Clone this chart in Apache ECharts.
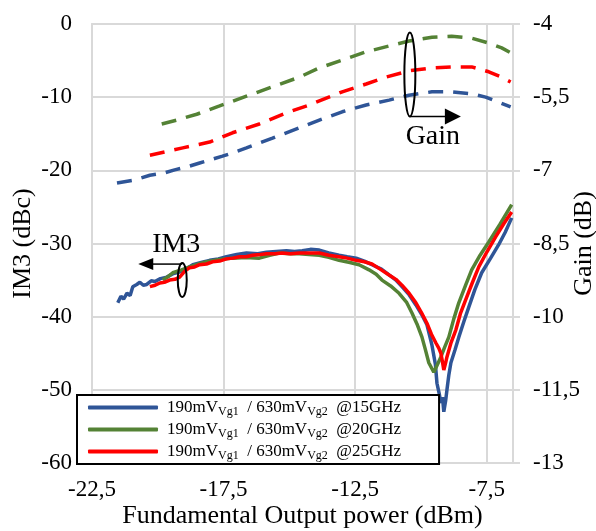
<!DOCTYPE html>
<html>
<head>
<meta charset="utf-8">
<script src="https://cdn.jsdelivr.net/npm/echarts@6/dist/echarts.min.js"></script>
<style>
html,body{margin:0;padding:0;background:#fff;}
#chart{width:596px;height:531px;}
</style>
</head>
<body>
<div id="chart"></div>
<script>
// x ticks (dBm) and series data
var xTicks = [-22.5, -17.5, -12.5, -7.5];
var freqs = ['15GHz', '20GHz', '25GHz'];
var colors = ['#2f5597', '#548235', '#ff0000'];

// IM3 (dBc), left axis
var im3Blue = [[-21.52,-38.1],[-21.4,-37.2],[-21.3,-37.6],[-21.17,-36.8],[-21.05,-37.1],[-20.95,-35.9],[-20.8,-35.6],[-20.68,-35.3],[-20.55,-35.7],[-20.42,-35.6],[-20.25,-35.1],[-20.11,-35.2],[-19.9,-34.8],[-19.66,-34.6],[-19.4,-34.1],[-19.17,-33.9],[-18.9,-33.4],[-18.67,-32.9],[-18.35,-32.6],[-18.03,-32.3],[-17.7,-32.1],[-17.39,-31.8],[-17.0,-31.5],[-16.63,-31.3],[-16.2,-31.4],[-15.87,-31.2],[-15.5,-31.1],[-15.11,-31.0],[-14.8,-31.1],[-14.51,-31.0],[-14.2,-30.8],[-13.86,-30.9],[-13.5,-31.3],[-13.11,-31.6],[-12.8,-31.8],[-12.46,-32.0],[-12.15,-32.4],[-11.86,-32.9],[-11.5,-33.5],[-11.21,-34.3],[-10.95,-35.0],[-10.72,-35.9],[-10.45,-37.0],[-10.19,-38.4],[-9.97,-39.7],[-9.77,-41.1],[-9.58,-43.9],[-9.45,-46.5],[-9.39,-49.1],[-9.3,-50.6],[-9.24,-51.8],[-9.18,-51.0],[-9.13,-53.0],[-9.06,-51.5],[-9.01,-50.0],[-8.94,-48.0],[-8.86,-46.3],[-8.7,-44.5],[-8.56,-42.8],[-8.36,-40.6],[-8.18,-38.7],[-7.95,-36.3],[-7.69,-34.0],[-7.35,-32.0],[-7.05,-30.2],[-6.8,-28.5],[-6.55,-26.5]];
var im3Green = [[-19.81,-35.0],[-19.6,-34.5],[-19.43,-34.0],[-19.1,-33.6],[-18.79,-33.2],[-18.45,-32.8],[-18.14,-32.5],[-17.65,-32.2],[-17.16,-32.0],[-16.65,-31.9],[-16.14,-32.0],[-15.75,-31.6],[-15.38,-31.3],[-15.0,-31.4],[-14.62,-31.4],[-14.25,-31.5],[-13.86,-31.6],[-13.5,-31.9],[-13.11,-32.3],[-12.7,-32.6],[-12.35,-32.9],[-11.97,-33.6],[-11.7,-34.2],[-11.48,-35.0],[-11.15,-35.8],[-10.83,-36.8],[-10.55,-38.0],[-10.34,-39.5],[-10.15,-41.0],[-9.96,-42.8],[-9.83,-44.5],[-9.7,-46.3],[-9.51,-47.6],[-9.38,-46.6],[-9.24,-45.5],[-9.1,-44.2],[-8.94,-42.8],[-8.75,-40.3],[-8.56,-38.1],[-8.3,-35.7],[-8.07,-33.6],[-7.75,-31.6],[-7.42,-29.8],[-7.0,-27.4],[-6.55,-24.7]];
var im3Red = [[-20.3,-35.9],[-20.1,-35.7],[-19.92,-35.4],[-19.75,-35.3],[-19.55,-35.0],[-19.35,-34.9],[-19.17,-34.6],[-18.98,-33.8],[-18.79,-33.3],[-18.6,-33.2],[-18.41,-32.9],[-18.15,-32.8],[-17.92,-32.5],[-17.65,-32.4],[-17.39,-32.1],[-17.15,-32.0],[-16.89,-31.8],[-16.65,-31.8],[-16.4,-31.6],[-16.1,-31.5],[-15.87,-31.4],[-15.55,-31.4],[-15.27,-31.3],[-14.95,-31.4],[-14.62,-31.3],[-14.25,-31.3],[-13.86,-31.3],[-13.5,-31.6],[-13.11,-31.8],[-12.8,-32.0],[-12.46,-32.3],[-12.15,-32.5],[-11.86,-32.8],[-11.55,-33.5],[-11.21,-34.3],[-10.95,-34.9],[-10.72,-35.7],[-10.45,-36.8],[-10.19,-38.1],[-9.97,-39.5],[-9.77,-40.9],[-9.6,-42.4],[-9.43,-43.6],[-9.32,-44.3],[-9.24,-45.0],[-9.18,-46.2],[-9.13,-47.3],[-9.06,-46.3],[-9.01,-45.5],[-8.85,-43.5],[-8.67,-41.8],[-8.5,-39.6],[-8.3,-37.7],[-8.05,-35.4],[-7.8,-33.2],[-7.5,-31.2],[-7.16,-29.1],[-6.85,-27.3],[-6.55,-25.7]];

// Gain (dB), right axis
var gainBlue = [[-21.55,-7.26],[-20.9,-7.2],[-20.3,-7.1],[-19.8,-7.06],[-19.36,-6.99],[-18.9,-6.93],[-18.41,-6.85],[-17.54,-6.71],[-17.1,-6.63],[-16.63,-6.54],[-15.64,-6.34],[-14.62,-6.13],[-13.86,-5.97],[-12.99,-5.8],[-12.08,-5.66],[-11.21,-5.56],[-10.45,-5.46],[-9.58,-5.39],[-8.83,-5.39],[-8.07,-5.43],[-7.54,-5.5],[-7.05,-5.6],[-6.59,-5.7]];
var gainGreen = [[-19.85,-6.05],[-19.28,-5.97],[-18.52,-5.85],[-17.65,-5.68],[-16.63,-5.48],[-15.76,-5.31],[-14.62,-5.09],[-13.86,-4.9],[-12.99,-4.74],[-12.08,-4.57],[-11.21,-4.45],[-10.45,-4.35],[-9.58,-4.27],[-8.83,-4.25],[-8.07,-4.29],[-7.42,-4.39],[-6.93,-4.49],[-6.59,-4.59]];
var gainRed = [[-20.3,-6.69],[-19.05,-6.54],[-18.03,-6.42],[-17.16,-6.23],[-16.14,-6.05],[-15.11,-5.82],[-14.24,-5.66],[-12.99,-5.39],[-12.08,-5.23],[-11.33,-5.09],[-10.45,-4.96],[-9.58,-4.9],[-8.83,-4.88],[-8.07,-4.88],[-7.42,-4.98],[-6.93,-5.09],[-6.59,-5.19]];

var im3Data = [im3Blue, im3Green, im3Red];
var gainData = [gainBlue, gainGreen, gainRed];

// annotation anchors (data coords on left axis)
var gainMark = [-10.42, -6.9];
var im3Mark = [-19.07, -35.0];

var FONT = 'Liberation Serif';
var comma = function (v) { return String(v).replace('.', ','); };

var legendNames = freqs.map(function (f) { return '190mVVg1 / 630mVVg2 @' + f; });
var legendRich = {};
freqs.forEach(function (f, i) {
    legendRich[legendNames[i]] = '190mV{s|Vg1}  / 630mV{s|Vg2}  @' + f;
});

var series = [];
im3Data.forEach(function (d, i) {
    series.push({
        name: legendNames[i],
        type: 'line',
        data: d,
        showSymbol: false,
        symbol: 'none',
        color: colors[i],
        lineStyle: { width: 3.5, color: colors[i] },
        z: 3 + i
    });
});
gainData.forEach(function (d, i) {
    series.push({
        name: 'Gain @' + freqs[i],
        type: 'line',
        yAxisIndex: 1,
        data: d,
        showSymbol: false,
        symbol: 'none',
        color: colors[i],
        lineStyle: { width: 3.5, color: colors[i], type: [15, 10] },
        z: 2
    });
});

var gridColor = '#d9d9d9';

var chart = echarts.init(document.getElementById('chart'));
chart.setOption({
    animation: false,
    backgroundColor: '#fff',
    textStyle: { fontFamily: FONT },
    grid: { left: 92, right: 83, top: 24, bottom: 68, containLabel: false, outerBoundsMode: 'none' },
    legend: {
        data: legendNames,
        orient: 'vertical',
        left: 77,
        top: 395,
        backgroundColor: '#fff',
        borderColor: '#000',
        borderWidth: 2,
        borderRadius: 0,
        padding: [2, 38, 2, 11],
        itemGap: 1,
        itemWidth: 70,
        itemHeight: 4,
        icon: 'roundRect',
        formatter: function (n) { return legendRich[n]; },
        textStyle: {
            fontFamily: FONT,
            fontSize: 17,
            color: '#000',
            lineHeight: 20,
            padding: [0, 0, 0, 4],
            rich: {
                s: { fontFamily: FONT, fontSize: 12, color: '#000', padding: [9, 0, 0, 0], lineHeight: 14 }
            }
        }
    },
    xAxis: {
        type: 'value',
        min: -22.5,
        max: -6.5,
        interval: 5,
        name: 'Fundamental Output power (dBm)',
        nameLocation: 'middle',
        nameGap: 40,
        nameMoveOverlap: false,
        nameTextStyle: { fontFamily: FONT, fontSize: 26, color: '#000' },
        axisLine: { show: true, lineStyle: { color: gridColor, width: 2 } },
        axisTick: { show: false },
        splitLine: { show: true, lineStyle: { color: gridColor, width: 2 } },
        axisLabel: {
            fontFamily: FONT, fontSize: 23, color: '#000', margin: 15,
            formatter: function (v) {
                return xTicks.indexOf(v) >= 0 ? comma(v) : '';
            }
        }
    },
    yAxis: [{
        type: 'value',
        min: -60,
        max: 0,
        interval: 10,
        name: 'IM3 (dBc)',
        nameLocation: 'middle',
        nameGap: 56,
        nameRotate: 90,
        nameMoveOverlap: false,
        nameTextStyle: { fontFamily: FONT, fontSize: 26, color: '#000' },
        axisLine: { show: true, lineStyle: { color: gridColor, width: 2 } },
        axisTick: { show: false },
        splitLine: { show: true, lineStyle: { color: gridColor, width: 2 } },
        axisLabel: { fontFamily: FONT, fontSize: 23, color: '#000', margin: 20, formatter: comma }
    }, {
        type: 'value',
        min: -13,
        max: -4,
        interval: 1.5,
        position: 'right',
        name: 'Gain (dB)',
        nameLocation: 'middle',
        nameGap: 58,
        nameRotate: 90,
        nameMoveOverlap: false,
        nameTextStyle: { fontFamily: FONT, fontSize: 26, color: '#000' },
        axisLine: { show: true, lineStyle: { color: gridColor, width: 2 } },
        axisTick: { show: true, length: 7, lineStyle: { color: gridColor, width: 2 } },
        splitLine: { show: false },
        axisLabel: { fontFamily: FONT, fontSize: 23, color: '#000', margin: 20, formatter: comma }
    }],
    series: series
});

// annotation ellipses + arrows, positioned from data anchors
var g = chart.convertToPixel({ xAxisIndex: 0, yAxisIndex: 0 }, gainMark);
var m = chart.convertToPixel({ xAxisIndex: 0, yAxisIndex: 0 }, im3Mark);
var ink = { stroke: '#000', lineWidth: 2, fill: null };
chart.setOption({
    graphic: [
        { type: 'ellipse', shape: { cx: g[0], cy: g[1], rx: 5.5, ry: 42 }, style: ink, z: 20 },
        { type: 'line', shape: { x1: g[0], y1: g[1] + 42, x2: g[0] + 36, y2: g[1] + 42 }, style: { stroke: '#000', lineWidth: 1.5 }, z: 20 },
        { type: 'polygon', shape: { points: [[g[0] + 35, g[1] + 34], [g[0] + 51, g[1] + 42], [g[0] + 35, g[1] + 50]] }, style: { fill: '#000' }, z: 20 },
        { type: 'text', x: g[0] + 23, y: g[1] + 62, style: { text: 'Gain', font: '28px "Liberation Serif"', fill: '#000', align: 'center', verticalAlign: 'middle' }, z: 20 },
        { type: 'ellipse', shape: { cx: m[0], cy: m[1], rx: 4.5, ry: 17 }, style: ink, z: 20 },
        { type: 'line', shape: { x1: m[0], y1: m[1] - 16, x2: m[0] - 30, y2: m[1] - 16 }, style: { stroke: '#000', lineWidth: 1.5 }, z: 20 },
        { type: 'polygon', shape: { points: [[m[0] - 29, m[1] - 22], [m[0] - 44, m[1] - 16], [m[0] - 29, m[1] - 10]] }, style: { fill: '#000' }, z: 20 },
        { type: 'text', x: m[0] - 6, y: m[1] - 35, style: { text: 'IM3', font: '28px "Liberation Serif"', fill: '#000', align: 'center', verticalAlign: 'middle' }, z: 20 }
    ]
});
</script>
</body>
</html>
